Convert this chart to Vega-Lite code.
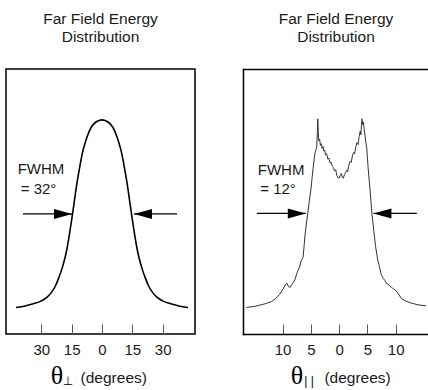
{
  "$schema": "https://vega.github.io/schema/vega-lite/v6.json",
  "padding": {"left": 5, "right": 0, "top": 10, "bottom": 0},
  "bounds": "flush",
  "spacing": 48,
  "config": {
    "font": "Liberation Sans",
    "view": {"stroke": "#000", "strokeWidth": 1.5},
    "axis": {"grid": false},
    "title": {"fontSize": 15.5, "fontWeight": "normal", "color": "#1a1a1a", "lineHeight": 18, "offset": 24, "font": "Liberation Sans"}
  },
  "datasets": {
    "perp": [
      {"deg": -42.5, "val": 0.100}, {"deg": -38, "val": 0.106}, {"deg": -34, "val": 0.114}, {"deg": -30, "val": 0.125},
      {"deg": -27, "val": 0.140}, {"deg": -25, "val": 0.157}, {"deg": -23, "val": 0.182}, {"deg": -21.5, "val": 0.210},
      {"deg": -20, "val": 0.242}, {"deg": -18.5, "val": 0.282}, {"deg": -17.5, "val": 0.315}, {"deg": -16.2, "val": 0.372},
      {"deg": -15, "val": 0.432}, {"deg": -13.8, "val": 0.495}, {"deg": -12.5, "val": 0.565}, {"deg": -11, "val": 0.632},
      {"deg": -9.5, "val": 0.690}, {"deg": -8, "val": 0.730}, {"deg": -6.5, "val": 0.762}, {"deg": -5, "val": 0.784},
      {"deg": -3, "val": 0.800}, {"deg": -1.5, "val": 0.806}, {"deg": 0, "val": 0.808}, {"deg": 1.5, "val": 0.806},
      {"deg": 3, "val": 0.800}, {"deg": 5, "val": 0.784}, {"deg": 6.5, "val": 0.762}, {"deg": 8, "val": 0.730},
      {"deg": 9.5, "val": 0.690}, {"deg": 11, "val": 0.632}, {"deg": 12.5, "val": 0.565}, {"deg": 13.8, "val": 0.495},
      {"deg": 15, "val": 0.432}, {"deg": 16.2, "val": 0.372}, {"deg": 17.5, "val": 0.315}, {"deg": 18.5, "val": 0.282},
      {"deg": 20, "val": 0.242}, {"deg": 21.5, "val": 0.210}, {"deg": 23, "val": 0.182}, {"deg": 25, "val": 0.157},
      {"deg": 27, "val": 0.140}, {"deg": 30, "val": 0.125}, {"deg": 34, "val": 0.114}, {"deg": 38, "val": 0.106},
      {"deg": 42.5, "val": 0.100}
    ],
    "par": [
      {"deg": -16.4, "val": 0.100}, {"deg": -15, "val": 0.104}, {"deg": -13.1, "val": 0.114}, {"deg": -12, "val": 0.122},
      {"deg": -11.3, "val": 0.132}, {"deg": -10.5, "val": 0.150}, {"deg": -9.9, "val": 0.170}, {"deg": -9.6, "val": 0.182},
      {"deg": -9.26, "val": 0.192}, {"deg": -8.9, "val": 0.178}, {"deg": -8.67, "val": 0.176}, {"deg": -8.4, "val": 0.186},
      {"deg": -8.14, "val": 0.193}, {"deg": -7.8, "val": 0.205}, {"deg": -7.5, "val": 0.228}, {"deg": -7.26, "val": 0.240},
      {"deg": -7.0, "val": 0.252}, {"deg": -6.73, "val": 0.275}, {"deg": -6.5, "val": 0.285}, {"deg": -6.37, "val": 0.290},
      {"deg": -6.2, "val": 0.330}, {"deg": -6.02, "val": 0.375}, {"deg": -5.8, "val": 0.415}, {"deg": -5.54, "val": 0.455},
      {"deg": -5.25, "val": 0.505}, {"deg": -4.96, "val": 0.550}, {"deg": -4.75, "val": 0.595}, {"deg": -4.6, "val": 0.625},
      {"deg": -4.4, "val": 0.660}, {"deg": -4.25, "val": 0.685}, {"deg": -4.1, "val": 0.695}, {"deg": -3.95, "val": 0.705},
      {"deg": -3.85, "val": 0.760}, {"deg": -3.77, "val": 0.812}, {"deg": -3.68, "val": 0.760}, {"deg": -3.6, "val": 0.730},
      {"deg": -3.45, "val": 0.735}, {"deg": -3.3, "val": 0.712}, {"deg": -3.15, "val": 0.718}, {"deg": -3.0, "val": 0.700},
      {"deg": -2.85, "val": 0.708}, {"deg": -2.7, "val": 0.690}, {"deg": -2.55, "val": 0.694}, {"deg": -2.4, "val": 0.676},
      {"deg": -2.2, "val": 0.680}, {"deg": -2.0, "val": 0.660}, {"deg": -1.8, "val": 0.664}, {"deg": -1.6, "val": 0.645},
      {"deg": -1.4, "val": 0.648}, {"deg": -1.2, "val": 0.632}, {"deg": -1.0, "val": 0.628}, {"deg": -0.8, "val": 0.615},
      {"deg": -0.6, "val": 0.620}, {"deg": -0.4, "val": 0.598}, {"deg": -0.2, "val": 0.590}, {"deg": 0.0, "val": 0.588},
      {"deg": 0.2, "val": 0.598}, {"deg": 0.4, "val": 0.606}, {"deg": 0.55, "val": 0.592}, {"deg": 0.75, "val": 0.588},
      {"deg": 0.95, "val": 0.602}, {"deg": 1.15, "val": 0.610}, {"deg": 1.35, "val": 0.618}, {"deg": 1.5, "val": 0.612},
      {"deg": 1.7, "val": 0.635}, {"deg": 1.95, "val": 0.652}, {"deg": 2.15, "val": 0.648}, {"deg": 2.35, "val": 0.672},
      {"deg": 2.55, "val": 0.685}, {"deg": 2.75, "val": 0.680}, {"deg": 2.95, "val": 0.705}, {"deg": 3.15, "val": 0.722},
      {"deg": 3.35, "val": 0.715}, {"deg": 3.55, "val": 0.745}, {"deg": 3.72, "val": 0.765}, {"deg": 3.85, "val": 0.752},
      {"deg": 3.95, "val": 0.790}, {"deg": 4.05, "val": 0.812}, {"deg": 4.15, "val": 0.790}, {"deg": 4.3, "val": 0.800},
      {"deg": 4.42, "val": 0.775}, {"deg": 4.6, "val": 0.745}, {"deg": 4.75, "val": 0.720}, {"deg": 4.9, "val": 0.700},
      {"deg": 5.0, "val": 0.665}, {"deg": 5.13, "val": 0.628}, {"deg": 5.3, "val": 0.585}, {"deg": 5.49, "val": 0.540},
      {"deg": 5.65, "val": 0.495}, {"deg": 5.79, "val": 0.457}, {"deg": 5.96, "val": 0.426}, {"deg": 6.2, "val": 0.377},
      {"deg": 6.45, "val": 0.330}, {"deg": 6.85, "val": 0.278}, {"deg": 7.05, "val": 0.262}, {"deg": 7.4, "val": 0.228},
      {"deg": 7.79, "val": 0.210}, {"deg": 8.1, "val": 0.202}, {"deg": 8.4, "val": 0.190}, {"deg": 8.67, "val": 0.188},
      {"deg": 9.0, "val": 0.180}, {"deg": 9.3, "val": 0.176}, {"deg": 9.6, "val": 0.170}, {"deg": 9.91, "val": 0.166},
      {"deg": 10.4, "val": 0.155}, {"deg": 11.0, "val": 0.134}, {"deg": 11.8, "val": 0.124}, {"deg": 12.7, "val": 0.117},
      {"deg": 14, "val": 0.110}, {"deg": 15.4, "val": 0.106}
    ],
    "perpArrows": [
      {"tail": -39.1, "tip": -14.84, "val": 0.453, "dir": "right"},
      {"tail": 37.1, "tip": 15.83, "val": 0.453, "dir": "left"}
    ],
    "parArrows": [
      {"tail": -14.56, "tip": -5.89, "val": 0.455, "dir": "right"},
      {"tail": 13.74, "tip": 6.07, "val": 0.455, "dir": "left"}
    ],
    "perpText": [
      {"role": "big", "x": -22.3, "y": -0.158, "text": "θ"},
      {"role": "sub", "x": -16.8, "y": -0.178, "text": "⊥"},
      {"role": "deg", "x": -10.6, "y": -0.166, "text": "(degrees)"},
      {"role": "note", "x": -30.2, "y": 0.623, "text": "FWHM"},
      {"role": "note", "x": -31.4, "y": 0.547, "text": "= 32°"}
    ],
    "parText": [
      {"role": "big", "x": -7.43, "y": -0.158, "text": "θ"},
      {"role": "sub", "x": -5.3, "y": -0.178, "text": "| |"},
      {"role": "deg", "x": -2.6, "y": -0.166, "text": "(degrees)"},
      {"role": "note", "x": -10.26, "y": 0.619, "text": "FWHM"},
      {"role": "note", "x": -10.8, "y": 0.547, "text": "= 12°"}
    ]
  },
  "hconcat": [
    {
      "width": 189,
      "height": 265,
      "title": {"text": ["Far Field Energy", "Distribution"]},
      "layer": [
        {
          "data": {"name": "perp"},
          "mark": {"type": "line", "color": "#000", "strokeWidth": 1.6, "interpolate": "monotone"},
          "encoding": {
            "x": {"field": "deg", "type": "quantitative", "scale": {"domain": [-47.5, 46], "nice": false, "zero": false},
                  "axis": {"values": [-30, -15, 0, 15, 30], "labelExpr": "abs(datum.value)", "tickSize": -10, "tickColor": "#555", "tickWidth": 1, "labelPadding": 18, "labelFontSize": 15, "labelColor": "#1a1a1a", "domain": false, "title": null, "grid": false}},
            "y": {"field": "val", "type": "quantitative", "scale": {"domain": [0, 1], "nice": false, "zero": false}, "axis": null}
          }
        },
        {
          "data": {"name": "perpArrows"},
          "mark": {"type": "rule", "color": "#000", "strokeWidth": 1.3},
          "encoding": {
            "x": {"field": "tail", "type": "quantitative", "scale": {"domain": [-47.5, 46], "nice": false, "zero": false}},
            "x2": {"field": "tip"},
            "y": {"field": "val", "type": "quantitative", "scale": {"domain": [0, 1], "nice": false, "zero": false}, "axis": null}
          }
        },
        {
          "data": {"name": "perpArrows"},
          "mark": {"type": "point", "filled": true, "color": "#000", "opacity": 1, "size": 1296, "strokeWidth": 0},
          "encoding": {
            "x": {"field": "tip", "type": "quantitative", "scale": {"domain": [-47.5, 46], "nice": false, "zero": false}},
            "y": {"field": "val", "type": "quantitative", "scale": {"domain": [0, 1], "nice": false, "zero": false}, "axis": null},
            "shape": {"field": "dir", "type": "nominal", "scale": {"domain": ["right", "left"], "range": ["M0,0L-1,-0.28L-1,0.28Z", "M0,0L1,-0.28L1,0.28Z"]}, "legend": null}
          }
        },
        {
          "data": {"name": "perpText"},
          "transform": [{"filter": "datum.role == 'big'"}],
          "mark": {"type": "text", "font": "Liberation Serif", "fontSize": 26, "align": "center", "baseline": "middle", "color": "#000"},
          "encoding": {
            "x": {"field": "x", "type": "quantitative", "scale": {"domain": [-47.5, 46], "nice": false, "zero": false}},
            "y": {"field": "y", "type": "quantitative", "scale": {"domain": [0, 1], "nice": false, "zero": false}, "axis": null},
            "text": {"field": "text"}
          }
        },
        {
          "data": {"name": "perpText"},
          "transform": [{"filter": "datum.role == 'sub'"}],
          "mark": {"type": "text", "font": "DejaVu Sans", "fontSize": 12, "align": "center", "baseline": "middle", "color": "#000"},
          "encoding": {
            "x": {"field": "x", "type": "quantitative", "scale": {"domain": [-47.5, 46], "nice": false, "zero": false}},
            "y": {"field": "y", "type": "quantitative", "scale": {"domain": [0, 1], "nice": false, "zero": false}, "axis": null},
            "text": {"field": "text"}
          }
        },
        {
          "data": {"name": "perpText"},
          "transform": [{"filter": "datum.role == 'deg'"}],
          "mark": {"type": "text", "fontSize": 15.5, "align": "left", "baseline": "middle", "color": "#1a1a1a"},
          "encoding": {
            "x": {"field": "x", "type": "quantitative", "scale": {"domain": [-47.5, 46], "nice": false, "zero": false}},
            "y": {"field": "y", "type": "quantitative", "scale": {"domain": [0, 1], "nice": false, "zero": false}, "axis": null},
            "text": {"field": "text"}
          }
        },
        {
          "data": {"name": "perpText"},
          "transform": [{"filter": "datum.role == 'note'"}],
          "mark": {"type": "text", "fontSize": 15, "align": "center", "baseline": "middle", "color": "#1a1a1a"},
          "encoding": {
            "x": {"field": "x", "type": "quantitative", "scale": {"domain": [-47.5, 46], "nice": false, "zero": false}},
            "y": {"field": "y", "type": "quantitative", "scale": {"domain": [0, 1], "nice": false, "zero": false}, "axis": null},
            "text": {"field": "text"}
          }
        }
      ]
    },
    {
      "width": 186,
      "height": 265,
      "view": {"stroke": null},
      "title": {"text": ["Far Field Energy", "Distribution"]},
      "resolve": {"axis": {"x": "independent"}},
      "layer": [
        {
          "data": {"name": "par"},
          "mark": {"type": "line", "color": "#333", "strokeWidth": 1, "interpolate": "linear"},
          "encoding": {
            "x": {"field": "deg", "type": "quantitative", "scale": {"domain": [-17, 15.9], "nice": false, "zero": false},
                  "axis": {"values": [-10, -5, 0, 5, 10], "labelExpr": "abs(datum.value)", "tickSize": -10, "tickColor": "#555", "tickWidth": 1, "labelPadding": 18, "labelFontSize": 15, "labelColor": "#1a1a1a", "domain": true, "domainColor": "#000", "domainWidth": 1.5, "domainCap": "square", "title": null, "grid": false}},
            "y": {"field": "val", "type": "quantitative", "scale": {"domain": [0, 1], "nice": false, "zero": false},
                  "axis": {"domain": true, "domainColor": "#000", "domainWidth": 1.5, "domainCap": "square", "ticks": false, "labels": false, "title": null, "grid": false}}
          }
        },
        {
          "data": {"name": "parArrows"},
          "mark": {"type": "rule", "color": "#000", "strokeWidth": 1.3},
          "encoding": {
            "x": {"field": "tail", "type": "quantitative", "scale": {"domain": [-17, 15.9], "nice": false, "zero": false},
                  "axis": {"orient": "top", "domain": true, "domainColor": "#000", "domainWidth": 1.5, "domainCap": "square", "ticks": false, "labels": false, "title": null, "grid": false}},
            "x2": {"field": "tip"},
            "y": {"field": "val", "type": "quantitative", "scale": {"domain": [0, 1], "nice": false, "zero": false}}
          }
        },
        {
          "data": {"name": "parArrows"},
          "mark": {"type": "point", "filled": true, "color": "#000", "opacity": 1, "size": 1296, "strokeWidth": 0},
          "encoding": {
            "x": {"field": "tip", "type": "quantitative", "scale": {"domain": [-17, 15.9], "nice": false, "zero": false}, "axis": null},
            "y": {"field": "val", "type": "quantitative", "scale": {"domain": [0, 1], "nice": false, "zero": false}},
            "shape": {"field": "dir", "type": "nominal", "scale": {"domain": ["right", "left"], "range": ["M0,0L-1,-0.28L-1,0.28Z", "M0,0L1,-0.28L1,0.28Z"]}, "legend": null}
          }
        },
        {
          "data": {"name": "parText"},
          "transform": [{"filter": "datum.role == 'big'"}],
          "mark": {"type": "text", "font": "Liberation Serif", "fontSize": 26, "align": "center", "baseline": "middle", "color": "#000"},
          "encoding": {
            "x": {"field": "x", "type": "quantitative", "scale": {"domain": [-17, 15.9], "nice": false, "zero": false}, "axis": null},
            "y": {"field": "y", "type": "quantitative", "scale": {"domain": [0, 1], "nice": false, "zero": false}},
            "text": {"field": "text"}
          }
        },
        {
          "data": {"name": "parText"},
          "transform": [{"filter": "datum.role == 'sub'"}],
          "mark": {"type": "text", "fontSize": 12, "align": "center", "baseline": "middle", "color": "#000"},
          "encoding": {
            "x": {"field": "x", "type": "quantitative", "scale": {"domain": [-17, 15.9], "nice": false, "zero": false}, "axis": null},
            "y": {"field": "y", "type": "quantitative", "scale": {"domain": [0, 1], "nice": false, "zero": false}},
            "text": {"field": "text"}
          }
        },
        {
          "data": {"name": "parText"},
          "transform": [{"filter": "datum.role == 'deg'"}],
          "mark": {"type": "text", "fontSize": 15.5, "align": "left", "baseline": "middle", "color": "#1a1a1a"},
          "encoding": {
            "x": {"field": "x", "type": "quantitative", "scale": {"domain": [-17, 15.9], "nice": false, "zero": false}, "axis": null},
            "y": {"field": "y", "type": "quantitative", "scale": {"domain": [0, 1], "nice": false, "zero": false}},
            "text": {"field": "text"}
          }
        },
        {
          "data": {"name": "parText"},
          "transform": [{"filter": "datum.role == 'note'"}],
          "mark": {"type": "text", "fontSize": 15, "align": "center", "baseline": "middle", "color": "#1a1a1a"},
          "encoding": {
            "x": {"field": "x", "type": "quantitative", "scale": {"domain": [-17, 15.9], "nice": false, "zero": false}, "axis": null},
            "y": {"field": "y", "type": "quantitative", "scale": {"domain": [0, 1], "nice": false, "zero": false}},
            "text": {"field": "text"}
          }
        }
      ]
    }
  ]
}
